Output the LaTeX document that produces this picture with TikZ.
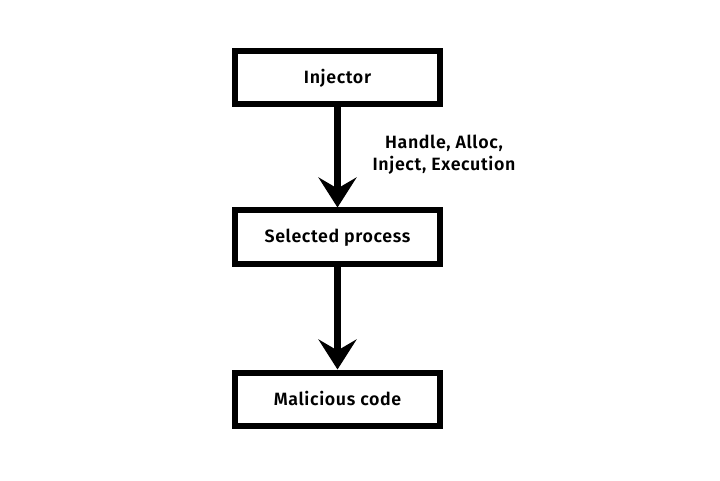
\documentclass[tikz,border=0pt]{standalone}
\usepackage{fontspec}
\setmainfont{Fira Sans}[UprightFont=* SemiBold,LetterSpace=3.5]
\usetikzlibrary{arrows.meta}
\begin{document}
\begin{tikzpicture}[x=1pt,y=1pt,
  box/.style={draw=black,line width=6pt,minimum width=205pt,minimum height=53pt,inner sep=0pt,text height=12pt,text depth=0pt,font=\fontsize{17.8}{22}\selectfont},
  flow/.style={line width=6.5pt,-{Stealth[length=30pt,width=38pt,inset=11pt]}},
  lbl/.style={align=center,font=\fontsize{17.8}{22}\selectfont}]
\useasboundingbox[fill=white] (0,0) rectangle (720,480);
\node[box] (inj) at (337.5,402.5) {Injector};
\node[box] (sel) at (337.5,243) {Selected process};
\node[box] (mal) at (337.5,81) {Malicious code};
\draw[flow] (inj) -- (sel);
\draw[flow] (sel) -- (mal);
\node[lbl] (hl) at (444,325) {Handle, Alloc,\\Inject, Execution};
\end{tikzpicture}
\end{document}
